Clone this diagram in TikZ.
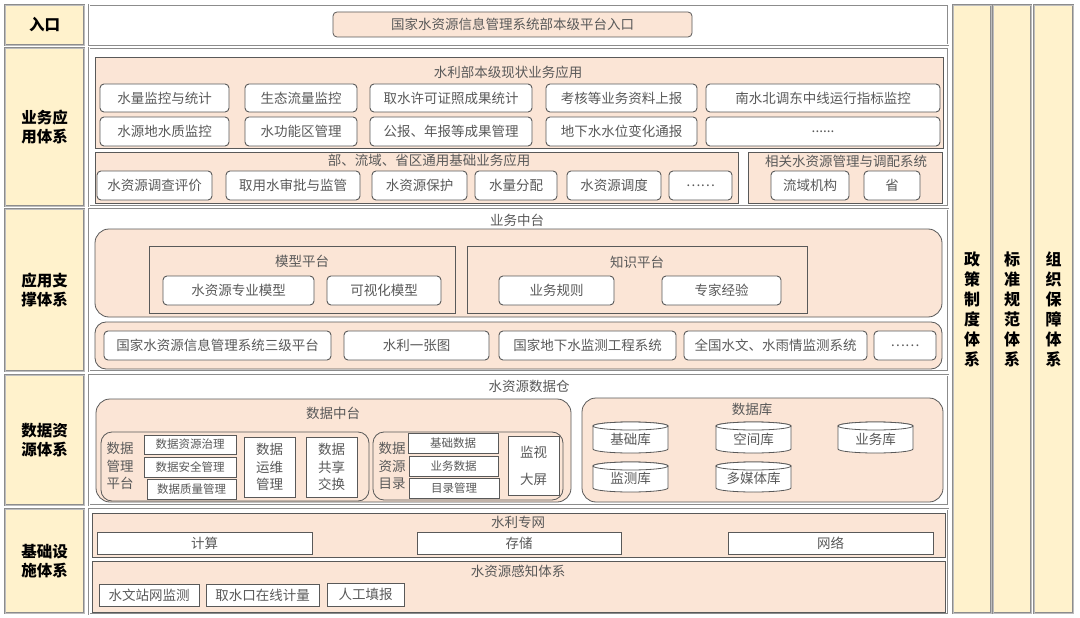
\documentclass[tikz,border=0pt]{standalone}
\usepackage{fontspec}
\setmainfont{Noto Sans CJK SC}
\usetikzlibrary{calc}
\definecolor{yel}{HTML}{FFF2CC}
\definecolor{peachc}{HTML}{FBE5D6}
\definecolor{bord}{HTML}{8C8C8C}
\definecolor{bordin}{HTML}{BDBDBD}
\definecolor{dk}{HTML}{595959}
\definecolor{txt}{HTML}{595959}
\newcommand{\Bx}[7][]{%
  \pgfmathsetmacro\bxw{#5-#3}%
  \pgfmathsetmacro\bxh{#6-#4}%
  \pgfmathsetmacro\bxcx{(#3+#5)/2}%
  \pgfmathsetmacro\bxcy{(#4+#6)/2}%
  \node[#1, minimum width=\bxw pt, minimum height=\bxh pt] (#2) at (\bxcx,\bxcy) {#7};}
\newcommand{\Cyl}[6]{%
  \pgfmathsetmacro\bxw{#4-#2}%
  \pgfmathsetmacro\bxh{#5-#3}%
  \pgfmathsetmacro\bxcx{(#2+#4)/2}%
  \pgfmathsetmacro\bxcy{(#3+#5)/2}%
  \pgfmathsetmacro\bxr{(#4-#2)/2}%
  \node[minimum width=\bxw pt, minimum height=\bxh pt] (#1) at (\bxcx,\bxcy) {};
  \draw[cyl] ([yshift=-4pt]#1.north west) -- ([yshift=4pt]#1.south west)
     arc[start angle=180,end angle=360,x radius=\bxr pt,y radius=4pt]
     -- ([yshift=-4pt]#1.north east)
     arc[start angle=0,end angle=180,x radius=\bxr pt,y radius=4pt] -- cycle;
  \draw[cyl] ([yshift=-4pt]#1.north) ellipse[x radius=\bxr pt,y radius=4pt];
  \node (#1-t) at ([yshift=-1.5pt]#1.center) {#6};}
\begin{document}
\begin{tikzpicture}[x=1pt,y=-1pt,
  every node/.style={text=txt, font=\fontsize{13.5}{16}\selectfont, inner sep=0pt, outer sep=0pt, align=center},
  lab/.style={fill=yel, draw=bord, line width=0.9pt, double=bordin, double distance=0.9pt, text=black, font=\bfseries\fontsize{15.5}{18.5}\selectfont},
  vlab/.style={lab, font=\bfseries\fontsize{16}{20}\selectfont},
  panel/.style={fill=white, draw=bord, line width=0.8pt, double=white, double distance=1pt},
  peach/.style={fill=peachc, draw=dk, line width=0.8pt},
  peachr/.style={peach, rounded corners=14pt},
  peachm/.style={peach, rounded corners=11pt},
  rpeach/.style={peach, rounded corners=4pt},
  rbox/.style={fill=white, draw=dk, line width=0.9pt, rounded corners=4pt},
  sbox/.style={fill=white, draw=dk, line width=0.9pt},
  small/.style={font=\fontsize{11.5}{14}\selectfont},
  multi/.style={font=\fontsize{13.5}{17.5}\selectfont},
  cyl/.style={fill=white, draw=dk, line width=0.8pt},
  ttl/.style={text=txt}]
\fill[white] (0,0) rectangle (1080,618);
\useasboundingbox (0,0) rectangle (1080,618);
% ---------- entry
\Bx[lab]{l0}{5}{5}{84}{45}{入口}
\Bx[panel]{p0}{89}{5}{948}{45}{}
\Bx[rpeach]{entry}{333}{12}{692}{37}{国家水资源信息管理系统部本级平台入口}
% ---------- business application
\Bx[lab]{l1}{5}{48}{84}{206}{业务应\\用体系}
\Bx[panel]{p1}{89}{48}{948}{206}{}
\Bx[peach]{c11}{95}{57}{943}{148}{}
\node[ttl] (t11) at (508,72) {水利部本级现状业务应用};
\Bx[rbox]{b111}{100}{84}{229}{112}{水量监控与统计}
\Bx[rbox]{b112}{245}{84}{357}{112}{生态流量监控}
\Bx[rbox]{b113}{370}{84}{532}{112}{取水许可证照成果统计}
\Bx[rbox]{b114}{546}{84}{697}{112}{考核等业务资料上报}
\Bx[rbox]{b115}{706}{84}{940}{112}{南水北调东中线运行指标监控}
\Bx[rbox]{b121}{100}{117}{229}{146}{水源地水质监控}
\Bx[rbox]{b122}{245}{117}{357}{146}{水功能区管理}
\Bx[rbox]{b123}{370}{117}{532}{146}{公报、年报等成果管理}
\Bx[rbox]{b124}{546}{117}{697}{146}{地下水水位变化通报}
\Bx[rbox]{b125}{706}{117}{940}{146}{......}
\Bx[peach]{c12}{95}{152}{738}{203}{}
\node[ttl] (t12) at (429,160) {部、流域、省区通用基础业务应用};
\Bx[rbox]{b131}{97}{171}{212}{200}{水资源调查评价}
\Bx[rbox]{b132}{226}{171}{360}{200}{取用水审批与监管}
\Bx[rbox]{b133}{372}{171}{467}{200}{水资源保护}
\Bx[rbox]{b134}{475}{171}{557}{200}{水量分配}
\Bx[rbox]{b135}{567}{171}{661}{200}{水资源调度}
\Bx[rbox]{b136}{669}{171}{732}{200}{……}
\Bx[peach]{c13}{748}{152}{942}{203}{}
\node[ttl] (t13) at (846,161) {相关水资源管理与调配系统};
\Bx[rbox]{b141}{771}{171}{849}{200}{流域机构}
\Bx[rbox]{b142}{864}{171}{920}{200}{省}
% ---------- application support
\Bx[lab]{l2}{5}{209}{84}{371}{应用支\\撑体系}
\Bx[panel]{p2}{89}{209}{948}{371}{}
\node[ttl] (t2) at (517,220) {业务中台};
\Bx[peachr]{c21}{95}{229}{942}{317}{}
\Bx[peach]{c22}{149}{246}{455}{313}{}
\node[ttl] (t22) at (302,261) {模型平台};
\Bx[rbox]{b221}{163}{276}{314}{305}{水资源专业模型}
\Bx[rbox]{b222}{327}{276}{441}{305}{可视化模型}
\Bx[peach]{c23}{467}{246}{807}{313}{}
\node[ttl] (t23) at (637,262) {知识平台};
\Bx[rbox]{b231}{499}{276}{614}{305}{业务规则}
\Bx[rbox]{b232}{662}{276}{781}{305}{专家经验}
\Bx[peachm]{c24}{95}{322}{942}{369}{}
\Bx[rbox]{b241}{104}{331}{331}{360}{国家水资源信息管理系统三级平台}
\Bx[rbox]{b242}{344}{331}{489}{360}{水利一张图}
\Bx[rbox]{b243}{499}{331}{676}{360}{国家地下水监测工程系统}
\Bx[rbox]{b244}{684}{331}{867}{360}{全国水文、水雨情监测系统}
\Bx[rbox]{b245}{874}{331}{936}{360}{……}
% ---------- data resources
\Bx[lab]{l3}{5}{375}{84}{505}{数据资\\源体系}
\Bx[panel]{p3}{89}{375}{948}{505}{}
\node[ttl] (t3) at (529,386) {水资源数据仓};
\Bx[peachr]{c31}{96}{399}{571}{502}{}
\node[ttl] (t31) at (333,413) {数据中台};
\Bx[peachm]{c32}{101}{432}{369}{501}{}
\node[ttl, multi] (t32) at (120,466) {数据\\管理\\平台};
\Bx[sbox, small]{b321}{144}{435}{236}{454}{数据资源治理}
\Bx[sbox, small]{b322}{144}{457}{236}{477}{数据安全管理}
\Bx[sbox, small]{b323}{147}{479}{236}{499}{数据质量管理}
\Bx[sbox, multi]{b324}{244}{437}{295}{497}{数据\\运维\\管理}
\Bx[sbox, multi]{b325}{306}{437}{357}{497}{数据\\共享\\交换}
\Bx[peachm]{c33}{373}{432}{563}{500}{}
\node[ttl, multi] (t33) at (392,466) {数据\\资源\\目录};
\Bx[sbox, small]{b331}{408}{433}{498}{453}{基础数据}
\Bx[sbox, small]{b332}{409}{456}{498}{476}{业务数据}
\Bx[sbox, small]{b333}{409}{478}{499}{498}{目录管理}
\Bx[sbox, font=\fontsize{13.5}{27}\selectfont]{b334}{508}{436}{559}{495}{监视\\大屏}
\Bx[peachr]{c34}{582}{398}{943}{502}{}
\node[ttl] (t34) at (752,409) {数据库};
\Cyl{d1}{593}{422}{668}{453}{基础库}
\Cyl{d2}{716}{422}{791}{453}{空间库}
\Cyl{d3}{838}{422}{913}{453}{业务库}
\Cyl{d4}{593}{462}{668}{492}{监测库}
\Cyl{d5}{716}{462}{791}{492}{多媒体库}
% ---------- infrastructure
\Bx[lab]{l4}{5}{509}{84}{613}{基础设\\施体系}
\Bx[panel]{p4}{89}{509}{948}{614}{}
\Bx[peach]{c41}{92}{513}{945}{557}{}
\node[ttl] (t41) at (518,522) {水利专网};
\Bx[sbox]{b411}{97}{532}{312}{554}{计算}
\Bx[sbox]{b412}{417}{532}{621}{554}{存储}
\Bx[sbox]{b413}{728}{532}{933}{554}{网络}
\Bx[peach]{c42}{92}{561}{945}{612}{}
\node[ttl] (t42) at (518,571) {水资源感知体系};
\Bx[sbox]{b421}{99}{584}{199}{606}{水文站网监测}
\Bx[sbox]{b422}{206}{584}{319}{606}{取水口在线计量}
\Bx[sbox]{b423}{327}{583}{404}{606}{人工填报}
% ---------- right columns
\Bx[vlab]{r1}{953}{5}{991}{613}{政\\策\\制\\度\\体\\系}
\Bx[vlab]{r2}{993}{5}{1031}{613}{标\\准\\规\\范\\体\\系}
\Bx[vlab]{r3}{1034}{5}{1073}{613}{组\\织\\保\\障\\体\\系}
\end{tikzpicture}
\end{document}
